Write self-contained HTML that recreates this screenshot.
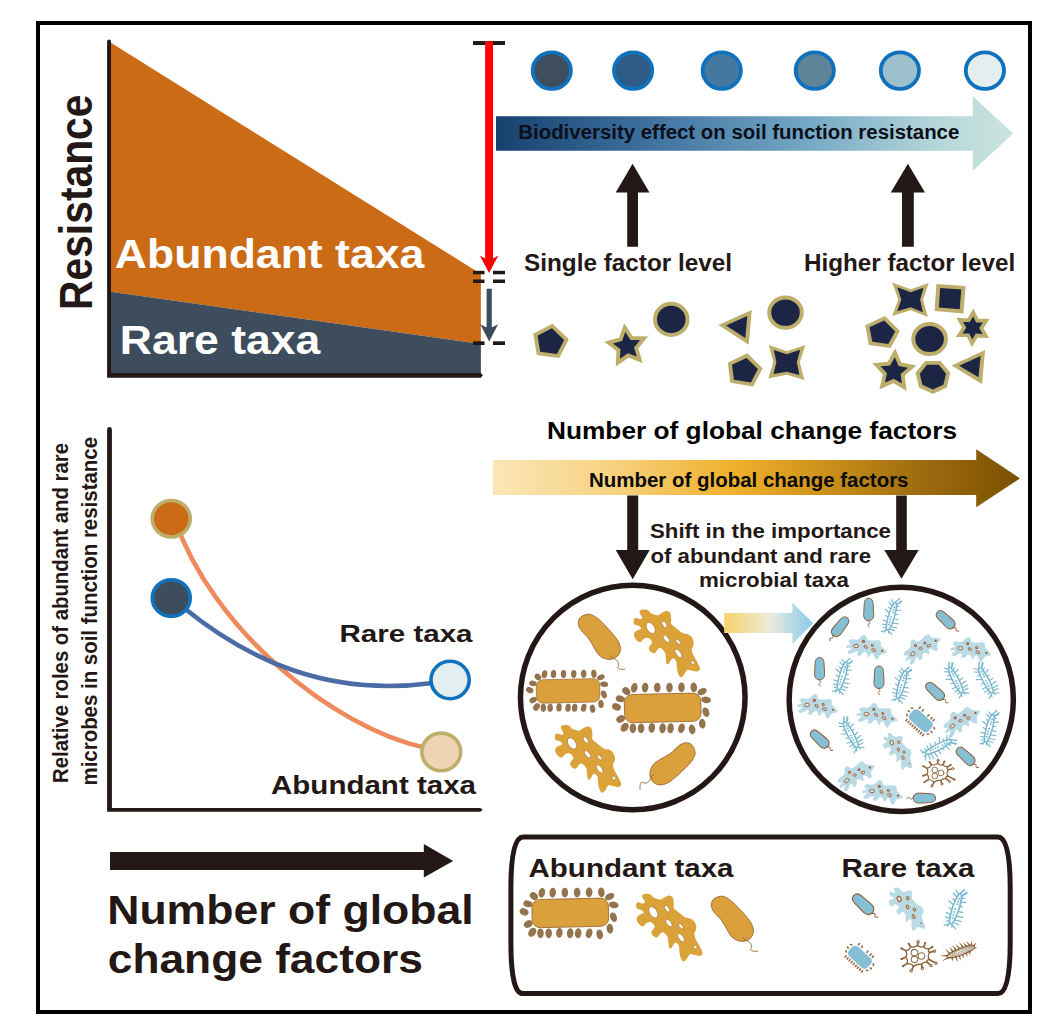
<!DOCTYPE html>
<html><head><meta charset="utf-8"><title>Graphical abstract</title>
<style>html,body{margin:0;padding:0;background:#fff;overflow:hidden}svg{display:block}text{font-family:"Liberation Sans",sans-serif;font-weight:bold}</style></head>
<body>
<svg width="1052" height="1034" viewBox="0 0 1052 1034">
<rect width="1052" height="1034" fill="#fff"/>
<defs>
<linearGradient id="gB" x1="496" x2="1013" y1="0" y2="0" gradientUnits="userSpaceOnUse"><stop offset="0" stop-color="#17416E"/><stop offset="0.3" stop-color="#3F72A0"/><stop offset="0.6" stop-color="#73A7C4"/><stop offset="0.85" stop-color="#B4D6D9"/><stop offset="1" stop-color="#CBE5DD"/></linearGradient>
<linearGradient id="gO" x1="492" x2="1020" y1="0" y2="0" gradientUnits="userSpaceOnUse"><stop offset="0" stop-color="#FBE6B8"/><stop offset="0.22" stop-color="#F7D382"/><stop offset="0.46" stop-color="#EFB02C"/><stop offset="0.62" stop-color="#CF931B"/><stop offset="0.8" stop-color="#A06E10"/><stop offset="1" stop-color="#7A5000"/></linearGradient>
<linearGradient id="gS" x1="724" x2="813" y1="0" y2="0" gradientUnits="userSpaceOnUse"><stop offset="0" stop-color="#F6D36B"/><stop offset="0.35" stop-color="#F2E2B4"/><stop offset="0.52" stop-color="#EDEBDF"/><stop offset="0.75" stop-color="#B9DCE6"/><stop offset="1" stop-color="#8CCAE8"/></linearGradient>
<g id="amoO"><path d="M-27.1 -32.56C-26.49 -33.32 -24.36 -33.73 -22.99 -33.8C-21.62 -33.87 -20.12 -33.66 -18.88 -32.97C-17.65 -32.29 -17.24 -30.51 -15.6 -29.69C-13.95 -28.86 -10.94 -27.84 -9.02 -28.04C-7.1 -28.25 -5.59 -30.23 -4.09 -30.92C-2.58 -31.6 -1.21 -32.29 0.02 -32.15C1.26 -32.02 2.6 -31.4 3.31 -30.1C4.02 -28.8 4.13 -26.12 4.3 -24.34C4.46 -22.56 3.5 -20.92 4.3 -19.41C5.09 -17.9 7.18 -16.81 9.07 -15.3C10.96 -13.79 13.72 -11.4 15.64 -10.37C17.56 -9.34 19.07 -9.82 20.57 -9.14C22.08 -8.45 23.66 -7.56 24.68 -6.26C25.71 -4.96 26.47 -2.83 26.74 -1.33C27.01 0.18 26.64 1.55 26.33 2.78C26.01 4.02 24.85 4.56 24.85 6.07C24.85 7.58 25.53 9.91 26.33 11.83C27.12 13.74 28.59 15.66 29.62 17.58C30.64 19.5 31.95 21.83 32.49 23.33C33.04 24.84 33.25 25.8 32.9 26.62C32.56 27.44 31.67 28.13 30.44 28.27C29.21 28.4 27.15 27.72 25.51 27.44C23.86 27.17 21.81 26.21 20.57 26.62C19.34 27.03 18.93 28.81 18.11 29.91C17.29 31.01 16.46 32.58 15.64 33.2C14.82 33.82 13.93 34.16 13.18 33.61C12.42 33.06 11.67 31.49 11.12 29.91C10.57 28.34 10.16 26.07 9.89 24.16C9.61 22.24 10.02 19.91 9.48 18.4C8.93 16.9 7.49 15.39 6.6 15.11C5.71 14.84 4.96 15.8 4.13 16.76C3.31 17.72 2.42 20.32 1.67 20.87C0.91 21.42 0.09 21.14 -0.39 20.05C-0.87 18.95 -1 15.94 -1.21 14.29C-1.42 12.65 -1.07 11.55 -1.62 10.18C-2.17 8.81 -3.54 6.96 -4.5 6.07C-5.46 5.18 -6.48 4.7 -7.37 4.84C-8.27 4.98 -9.02 6.07 -9.84 6.89C-10.66 7.72 -11.35 9.43 -12.31 9.77C-13.27 10.11 -14.64 9.63 -15.6 8.95C-16.55 8.26 -17.79 6.69 -18.06 5.66C-18.34 4.63 -17.79 3.81 -17.24 2.78C-16.69 1.76 -14.91 0.59 -14.77 -0.5C-14.64 -1.6 -15.6 -2.97 -16.42 -3.79C-17.24 -4.61 -18.61 -5.3 -19.71 -5.44C-20.8 -5.57 -21.9 -5.3 -22.99 -4.61C-24.09 -3.93 -25.19 -1.67 -26.28 -1.33C-27.38 -0.98 -28.54 -1.74 -29.57 -2.56C-30.6 -3.38 -31.9 -5.09 -32.45 -6.26C-32.99 -7.42 -33.2 -8.52 -32.86 -9.55C-32.52 -10.57 -31.56 -11.6 -30.39 -12.42C-29.23 -13.25 -26.28 -13.66 -25.87 -14.48C-25.46 -15.3 -26.9 -16.67 -27.93 -17.36C-28.95 -18.04 -31.15 -17.97 -32.04 -18.59C-32.93 -19.21 -33.13 -20.1 -33.27 -21.06C-33.41 -22.01 -33.34 -23.66 -32.86 -24.34C-32.38 -25.03 -31.49 -25.23 -30.39 -25.17C-29.3 -25.1 -27.24 -23.8 -26.28 -23.93C-25.32 -24.07 -24.57 -25.1 -24.64 -25.99C-24.71 -26.88 -26.28 -28.18 -26.69 -29.28C-27.1 -30.37 -27.72 -31.81 -27.1 -32.56Z" fill="#DBA23A"/><ellipse cx="0" cy="0" rx="6.17" ry="3.7" transform="translate(-16.17 -15.3) rotate(58)" fill="#fff" stroke="#96602C" stroke-width="0.5"/><ellipse cx="0" cy="0" rx="3.7" ry="1.81" transform="translate(-2.44 -18.84) rotate(55)" fill="#fff" stroke="#96602C" stroke-width="0.5"/><ellipse cx="0" cy="0" rx="4.27" ry="2.06" transform="translate(-0.63 -4.45) rotate(52)" fill="#fff" stroke="#96602C" stroke-width="0.5"/><ellipse cx="0" cy="0" rx="3.12" ry="1.48" transform="translate(11.37 -1.33) rotate(50)" fill="#fff" stroke="#96602C" stroke-width="0.5"/><ellipse cx="0" cy="0" rx="4.77" ry="2.22" transform="translate(11.53 10.18) rotate(55)" fill="#fff" stroke="#96602C" stroke-width="0.5"/><ellipse cx="0" cy="0" rx="2.06" ry="1.48" transform="translate(25.75 19.39) rotate(45)" fill="#fff" stroke="#96602C" stroke-width="0.5"/></g>
<g id="amoB"><path d="M-27.1 -32.56C-26.49 -33.32 -24.36 -33.73 -22.99 -33.8C-21.62 -33.87 -20.12 -33.66 -18.88 -32.97C-17.65 -32.29 -17.24 -30.51 -15.6 -29.69C-13.95 -28.86 -10.94 -27.84 -9.02 -28.04C-7.1 -28.25 -5.59 -30.23 -4.09 -30.92C-2.58 -31.6 -1.21 -32.29 0.02 -32.15C1.26 -32.02 2.6 -31.4 3.31 -30.1C4.02 -28.8 4.13 -26.12 4.3 -24.34C4.46 -22.56 3.5 -20.92 4.3 -19.41C5.09 -17.9 7.18 -16.81 9.07 -15.3C10.96 -13.79 13.72 -11.4 15.64 -10.37C17.56 -9.34 19.07 -9.82 20.57 -9.14C22.08 -8.45 23.66 -7.56 24.68 -6.26C25.71 -4.96 26.47 -2.83 26.74 -1.33C27.01 0.18 26.64 1.55 26.33 2.78C26.01 4.02 24.85 4.56 24.85 6.07C24.85 7.58 25.53 9.91 26.33 11.83C27.12 13.74 28.59 15.66 29.62 17.58C30.64 19.5 31.95 21.83 32.49 23.33C33.04 24.84 33.25 25.8 32.9 26.62C32.56 27.44 31.67 28.13 30.44 28.27C29.21 28.4 27.15 27.72 25.51 27.44C23.86 27.17 21.81 26.21 20.57 26.62C19.34 27.03 18.93 28.81 18.11 29.91C17.29 31.01 16.46 32.58 15.64 33.2C14.82 33.82 13.93 34.16 13.18 33.61C12.42 33.06 11.67 31.49 11.12 29.91C10.57 28.34 10.16 26.07 9.89 24.16C9.61 22.24 10.02 19.91 9.48 18.4C8.93 16.9 7.49 15.39 6.6 15.11C5.71 14.84 4.96 15.8 4.13 16.76C3.31 17.72 2.42 20.32 1.67 20.87C0.91 21.42 0.09 21.14 -0.39 20.05C-0.87 18.95 -1 15.94 -1.21 14.29C-1.42 12.65 -1.07 11.55 -1.62 10.18C-2.17 8.81 -3.54 6.96 -4.5 6.07C-5.46 5.18 -6.48 4.7 -7.37 4.84C-8.27 4.98 -9.02 6.07 -9.84 6.89C-10.66 7.72 -11.35 9.43 -12.31 9.77C-13.27 10.11 -14.64 9.63 -15.6 8.95C-16.55 8.26 -17.79 6.69 -18.06 5.66C-18.34 4.63 -17.79 3.81 -17.24 2.78C-16.69 1.76 -14.91 0.59 -14.77 -0.5C-14.64 -1.6 -15.6 -2.97 -16.42 -3.79C-17.24 -4.61 -18.61 -5.3 -19.71 -5.44C-20.8 -5.57 -21.9 -5.3 -22.99 -4.61C-24.09 -3.93 -25.19 -1.67 -26.28 -1.33C-27.38 -0.98 -28.54 -1.74 -29.57 -2.56C-30.6 -3.38 -31.9 -5.09 -32.45 -6.26C-32.99 -7.42 -33.2 -8.52 -32.86 -9.55C-32.52 -10.57 -31.56 -11.6 -30.39 -12.42C-29.23 -13.25 -26.28 -13.66 -25.87 -14.48C-25.46 -15.3 -26.9 -16.67 -27.93 -17.36C-28.95 -18.04 -31.15 -17.97 -32.04 -18.59C-32.93 -19.21 -33.13 -20.1 -33.27 -21.06C-33.41 -22.01 -33.34 -23.66 -32.86 -24.34C-32.38 -25.03 -31.49 -25.23 -30.39 -25.17C-29.3 -25.1 -27.24 -23.8 -26.28 -23.93C-25.32 -24.07 -24.57 -25.1 -24.64 -25.99C-24.71 -26.88 -26.28 -28.18 -26.69 -29.28C-27.1 -30.37 -27.72 -31.81 -27.1 -32.56Z" fill="#BADBE5"/><ellipse cx="0" cy="0" rx="4.44" ry="3.14" transform="translate(-16.17 -15.3) rotate(58)" fill="#D6E9EF" stroke="#A8673A" stroke-width="2"/><ellipse cx="0" cy="0" rx="2.66" ry="1.9" transform="translate(-2.44 -18.84) rotate(55)" fill="#D6E9EF" stroke="#A8673A" stroke-width="2"/><ellipse cx="0" cy="0" rx="3.08" ry="1.9" transform="translate(-0.63 -4.45) rotate(52)" fill="#D6E9EF" stroke="#A8673A" stroke-width="2"/><ellipse cx="0" cy="0" rx="2.25" ry="1.9" transform="translate(11.37 -1.33) rotate(50)" fill="#D6E9EF" stroke="#A8673A" stroke-width="2"/><ellipse cx="0" cy="0" rx="3.43" ry="1.9" transform="translate(11.53 10.18) rotate(55)" fill="#D6E9EF" stroke="#A8673A" stroke-width="2"/><ellipse cx="0" cy="0" rx="1.64" ry="1.18" transform="translate(25.75 19.39) rotate(45)" fill="#A8673A"/></g>
<g id="amoB1"><path d="M-20.01 -1.24C-19.76 -1.59 -19.42 -1.99 -18.82 -2.19C-18.23 -2.38 -16.96 -2.19 -16.44 -2.42C-15.93 -2.66 -15.57 -3.22 -15.73 -3.61C-15.89 -4.01 -17.04 -4.36 -17.4 -4.8C-17.75 -5.24 -18.03 -5.75 -17.87 -6.23C-17.71 -6.7 -17.16 -7.34 -16.44 -7.65C-15.73 -7.97 -14.62 -8.13 -13.59 -8.13C-12.56 -8.13 -11.3 -7.57 -10.27 -7.65C-9.24 -7.73 -8.21 -8.09 -7.41 -8.6C-6.62 -9.12 -6.15 -10.15 -5.51 -10.74C-4.88 -11.34 -4.29 -11.91 -3.61 -12.17C-2.94 -12.42 -2.07 -12.46 -1.47 -12.26C-0.88 -12.06 -0.36 -11.55 -0.05 -10.98C0.27 -10.41 0.19 -9.43 0.43 -8.84C0.67 -8.25 0.63 -7.73 1.38 -7.41C2.13 -7.1 3.72 -6.98 4.94 -6.94C6.17 -6.9 7.56 -7.14 8.75 -7.18C9.93 -7.22 11.2 -7.34 12.07 -7.18C12.94 -7.02 13.58 -6.7 13.97 -6.23C14.37 -5.75 14.37 -5 14.45 -4.33C14.53 -3.65 14.13 -2.94 14.45 -2.19C14.77 -1.43 15.64 -0.6 16.35 0.19C17.06 0.98 18.05 1.89 18.73 2.57C19.4 3.24 20.19 3.72 20.39 4.23C20.59 4.74 20.43 5.3 19.91 5.66C19.4 6.01 18.21 6.13 17.3 6.37C16.39 6.61 15.16 6.69 14.45 7.08C13.74 7.48 13.5 8.07 13.02 8.75C12.55 9.42 12.07 10.53 11.6 11.12C11.12 11.72 10.65 12.31 10.17 12.31C9.7 12.31 9.14 11.72 8.75 11.12C8.35 10.53 8.11 9.54 7.79 8.75C7.48 7.95 7.32 6.84 6.84 6.37C6.37 5.89 5.46 5.74 4.94 5.89C4.43 6.05 4.15 6.73 3.75 7.32C3.36 7.91 3 9.22 2.57 9.46C2.13 9.7 1.5 9.26 1.14 8.75C0.78 8.23 0.74 7 0.43 6.37C0.11 5.74 -0.17 5.14 -0.76 4.94C-1.35 4.74 -2.5 4.86 -3.14 5.18C-3.77 5.5 -4.09 6.33 -4.56 6.84C-5.04 7.36 -5.35 8.03 -5.99 8.27C-6.62 8.51 -7.77 8.47 -8.37 8.27C-8.96 8.07 -9.51 7.56 -9.55 7.08C-9.59 6.61 -8.72 5.89 -8.6 5.42C-8.48 4.94 -8.48 4.47 -8.84 4.23C-9.2 3.99 -9.95 3.79 -10.74 3.99C-11.53 4.19 -12.64 4.98 -13.59 5.42C-14.54 5.85 -15.61 6.53 -16.44 6.61C-17.28 6.69 -18.19 6.29 -18.58 5.89C-18.98 5.5 -19.1 4.78 -18.82 4.23C-18.54 3.68 -17.47 3.08 -16.92 2.57C-16.37 2.05 -15.57 1.5 -15.49 1.14C-15.42 0.78 -15.81 0.52 -16.44 0.43C-17.08 0.33 -18.65 0.65 -19.3 0.57C-19.95 0.49 -20.22 0.25 -20.34 -0.05C-20.46 -0.35 -20.26 -0.88 -20.01 -1.24Z" fill="#BADBE5"/><ellipse cx="0" cy="0" rx="2.47" ry="1.71" transform="translate(-10.41 -1.38) rotate(0)" fill="#CFE6EE" stroke="#A45A2C" stroke-width="0.9"/><ellipse cx="0" cy="0" rx="1" ry="1" transform="translate(-3.04 -5.99) rotate(0)" fill="#CFE6EE" stroke="#A45A2C" stroke-width="1.09"/><ellipse cx="0" cy="0" rx="1.71" ry="1.05" transform="translate(-0.86 -0.52) rotate(30)" fill="#CFE6EE" stroke="#A45A2C" stroke-width="0.9"/><ellipse cx="0" cy="0" rx="1" ry="0.86" transform="translate(5.89 -1.95) rotate(20)" fill="#CFE6EE" stroke="#A45A2C" stroke-width="1"/><ellipse cx="0" cy="0" rx="2" ry="1.14" transform="translate(7.08 2.66) rotate(25)" fill="#CFE6EE" stroke="#A45A2C" stroke-width="0.9"/><circle cx="15.64" cy="3.37" r="1.14" fill="#A45A2C"/></g>
<g id="bacO"><path d="M7.53 -24.51C9.11 -23.36 9.76 -22.3 10.52 -20.32C11.29 -18.34 11.83 -15.62 12.1 -12.63C12.37 -9.64 12.22 -5.88 12.16 -2.37C12.09 1.13 12.02 5.15 11.7 8.4C11.37 11.65 11.01 14.69 10.21 17.13C9.41 19.57 8.18 21.59 6.9 23.05C5.63 24.51 4.18 25.37 2.56 25.89C0.94 26.41 -1.03 26.59 -2.83 26.17C-4.62 25.76 -6.77 24.66 -8.23 23.38C-9.69 22.11 -10.81 20.32 -11.59 18.53C-12.37 16.73 -12.85 14.64 -12.9 12.63C-12.95 10.63 -12.41 8.7 -11.91 6.47C-11.41 4.25 -10.48 1.76 -9.89 -0.72C-9.31 -3.2 -8.64 -5.94 -8.39 -8.42C-8.15 -10.9 -8.63 -13.42 -8.43 -15.6C-8.23 -17.78 -7.9 -19.84 -7.18 -21.51C-6.46 -23.18 -5.49 -24.68 -4.12 -25.63C-2.76 -26.58 -0.94 -27.38 1 -27.19C2.94 -27.01 5.94 -25.65 7.53 -24.51Z" fill="#D9A03C" stroke="#96602C" stroke-width="0.8"/><path d="M-4.91 20.54C-5.03 21.01 -5.75 22.34 -5.66 23.37C-5.57 24.39 -4.63 25.5 -4.36 26.7C-4.1 27.89 -3.79 29.39 -4.09 30.54C-4.38 31.7 -5.36 32.94 -6.12 33.63C-6.89 34.32 -8.47 33.94 -8.68 34.67C-8.89 35.4 -8.11 36.93 -7.38 38C-6.65 39.06 -4.8 40.55 -4.29 41.06" fill="none" stroke="#96602C" stroke-width="0.8"/></g>
<g id="bacB"><path d="M0 -11.2C2.9 -11.2 4.3 -9 4.4 -6L5 5C5.1 8.8 3.2 11.2 0 11.2C-3.2 11.2 -5.1 8.8 -5 5L-4.4 -6C-4.3 -9 -2.9 -11.2 0 -11.2Z" fill="#85BFD6" stroke="#8E5E38" stroke-width="1.0"/><path d="M-0.8 10.2C-0.6 12.2 1.6 12.6 0.8 13.8C0.2 14.8 -1.6 15 -0.6 16.2L1 17.6" fill="none" stroke="#8E5E38" stroke-width="0.9"/></g>
<g id="dcapO"><ellipse cx="0" cy="0" rx="3.28" ry="4.92" transform="translate(-28.42 -20.11) rotate(10)" fill="#94744F"/><ellipse cx="0" cy="0" rx="3.28" ry="4.92" transform="translate(-17.6 -20.33) rotate(5)" fill="#94744F"/><ellipse cx="0" cy="0" rx="3.28" ry="4.92" transform="translate(-5.47 -20.33) rotate(0)" fill="#94744F"/><ellipse cx="0" cy="0" rx="3.28" ry="4.92" transform="translate(6.78 -20.33) rotate(0)" fill="#94744F"/><ellipse cx="0" cy="0" rx="3.28" ry="4.92" transform="translate(18.8 -20.55) rotate(0)" fill="#94744F"/><ellipse cx="0" cy="0" rx="3.28" ry="4.92" transform="translate(31.05 -20.55) rotate(-5)" fill="#94744F"/><ellipse cx="0" cy="0" rx="4.92" ry="3.28" transform="translate(39.35 -16.29) rotate(-25)" fill="#94744F"/><ellipse cx="0" cy="0" rx="4.92" ry="3.28" transform="translate(43.4 -7.98) rotate(10)" fill="#94744F"/><ellipse cx="0" cy="0" rx="3.28" ry="4.92" transform="translate(43.18 4.26) rotate(-20)" fill="#94744F"/><ellipse cx="0" cy="0" rx="3.28" ry="4.92" transform="translate(39.57 15.74) rotate(-5)" fill="#94744F"/><ellipse cx="0" cy="0" rx="3.28" ry="4.92" transform="translate(29.41 21.43) rotate(-10)" fill="#94744F"/><ellipse cx="0" cy="0" rx="3.28" ry="4.92" transform="translate(18.8 20.33) rotate(15)" fill="#94744F"/><ellipse cx="0" cy="0" rx="3.28" ry="4.92" transform="translate(7.87 20.33) rotate(5)" fill="#94744F"/><ellipse cx="0" cy="0" rx="3.28" ry="4.92" transform="translate(-0.11 20.33) rotate(5)" fill="#94744F"/><ellipse cx="0" cy="0" rx="3.28" ry="4.92" transform="translate(-10.93 19.9) rotate(5)" fill="#94744F"/><ellipse cx="0" cy="0" rx="3.28" ry="4.92" transform="translate(-21.64 20.44) rotate(0)" fill="#94744F"/><ellipse cx="0" cy="0" rx="3.28" ry="4.92" transform="translate(-29.84 20.44) rotate(0)" fill="#94744F"/><ellipse cx="0" cy="0" rx="3.61" ry="4.92" transform="translate(-38.04 19.35) rotate(35)" fill="#94744F"/><ellipse cx="0" cy="0" rx="4.59" ry="3.5" transform="translate(-42.09 11.04) rotate(-30)" fill="#94744F"/><ellipse cx="0" cy="0" rx="4.59" ry="3.5" transform="translate(-46.24 -0.98) rotate(25)" fill="#94744F"/><ellipse cx="0" cy="0" rx="4.59" ry="3.28" transform="translate(-42.41 -9.07) rotate(15)" fill="#94744F"/><ellipse cx="0" cy="0" rx="4.37" ry="3.5" transform="translate(-36.4 -16.83) rotate(40)" fill="#94744F"/><rect x="-38.25" y="-14.1" width="76.5" height="28.2" rx="8" ry="8" transform="rotate(-1.3)" fill="#D9A03C" stroke="#96602C" stroke-width="0.8"/></g>
<g id="dcapB"><rect x="-12.6" y="-6.5" width="25.2" height="13" rx="4.2" ry="4.2" fill="#85BFD6"/><ellipse cx="-11.1" cy="9.1" rx="0.85" ry="1.7" transform="rotate(0)" fill="#9A6B43"/><ellipse cx="-8.32" cy="9.1" rx="0.85" ry="1.7" transform="rotate(0)" fill="#9A6B43"/><ellipse cx="-5.55" cy="9.1" rx="0.85" ry="1.7" transform="rotate(0)" fill="#9A6B43"/><ellipse cx="-2.78" cy="9.1" rx="0.85" ry="1.7" transform="rotate(0)" fill="#9A6B43"/><ellipse cx="0" cy="9.1" rx="0.85" ry="1.7" transform="rotate(0)" fill="#9A6B43"/><ellipse cx="2.78" cy="9.1" rx="0.85" ry="1.7" transform="rotate(0)" fill="#9A6B43"/><ellipse cx="5.55" cy="9.1" rx="0.85" ry="1.7" transform="rotate(0)" fill="#9A6B43"/><ellipse cx="8.33" cy="9.1" rx="0.85" ry="1.7" transform="rotate(0)" fill="#9A6B43"/><ellipse cx="11.1" cy="9.1" rx="0.85" ry="1.7" transform="rotate(0)" fill="#9A6B43"/><ellipse cx="-9.5" cy="-9.1" rx="0.85" ry="1.7" fill="#9A6B43"/><ellipse cx="-5.5" cy="-9.1" rx="0.85" ry="1.7" fill="#9A6B43"/><ellipse cx="2" cy="-9.1" rx="0.85" ry="1.7" fill="#9A6B43"/><ellipse cx="6.2" cy="-9.1" rx="0.85" ry="1.7" fill="#9A6B43"/><ellipse cx="9.2" cy="-9.1" rx="0.85" ry="1.7" fill="#9A6B43"/><ellipse cx="0" cy="0" rx="0.85" ry="1.6" transform="translate(-15 -3.5) rotate(60)" fill="#9A6B43"/><ellipse cx="0" cy="0" rx="0.85" ry="1.6" transform="translate(-15.4 1) rotate(90)" fill="#9A6B43"/><ellipse cx="0" cy="0" rx="0.85" ry="1.6" transform="translate(-14.2 5) rotate(-50)" fill="#9A6B43"/><ellipse cx="0" cy="0" rx="0.85" ry="1.6" transform="translate(15 -3.5) rotate(-60)" fill="#9A6B43"/><ellipse cx="0" cy="0" rx="0.85" ry="1.6" transform="translate(15.4 1) rotate(90)" fill="#9A6B43"/><ellipse cx="0" cy="0" rx="0.85" ry="1.6" transform="translate(14.2 5) rotate(50)" fill="#9A6B43"/></g>
<g id="cilB" fill="none" stroke="#78B8D0" stroke-linecap="round"><path d="M-1.28 -13.03L-4.75 -16.01M-2.05 -10.5L-6.24 -12.88M-2.63 -6.94L-5.13 -7.89M-2.95 -2.7L-8.11 -5.21M-2.98 1.8L-6.14 0.71M-2.71 6.13L-6.99 5.9M-2.19 9.86L-6.49 9.83M-1.45 12.62L-4.45 12.93M-0.56 14.14L-5.34 17.53M1.28 -13.03L5.53 -16.28M2.05 -10.5L4.47 -11.65M2.63 -6.94L7.14 -8.46M2.95 -2.7L5.31 -3.64M2.98 1.8L7.21 1.11M2.71 6.13L8.56 5.33M2.19 9.86L8.25 9.59M1.45 12.62L7.04 12.76M0.56 14.14L5.76 17.38M-1.2 13.9L-2.2 17.2M1.0 13.7L2.0 17" stroke-width="1.15"/><path d="M-0.9 -13.8L2.59 -19.17M1.9 -12.5L5.17 -17.53" stroke-width="1.38"/><ellipse cx="0" cy="0" rx="3" ry="14.4" fill="#fff" stroke-width="1.4"/><path d="M0.3 -10.45V-3.65" stroke-width="1.75" stroke-dasharray="1.6 1.0" stroke-linecap="butt"/><path d="M-0.2 -0.35V9.45" stroke-width="1.75" stroke-dasharray="1.6 1.13" stroke-linecap="butt"/></g>
<g id="cilBr"><path d="M-9.31 -1.76L-12.38 -7.49L-11.09 -1.12ZM-5.88 -2.39L-8.4 -8.17L-7.72 -1.91ZM-2.5 -2.81L-5.54 -8.62L-4.3 -2.18ZM0.88 -2.96L-2.42 -8.45L-0.88 -2.24ZM4.3 -2.79L1.26 -9.1L2.5 -2.2ZM7.67 -2.53L4.48 -7.54L5.93 -1.77ZM10.87 -1.87L7.23 -7.9L9.13 -1.12ZM-10.4 1.55L-9.89 5.9L-8.6 1.71ZM-6.9 2.25L-6.03 8.39L-5.1 2.26ZM-3.5 2.45L-3.16 7.94L-1.7 2.63ZM-0.07 2.37L-0.24 6.7L1.67 2.81ZM3.31 2.31L3.59 6.71L5.09 2.56ZM6.73 1.81L6.49 6.58L8.47 2.24ZM-12 -1.65L-19.38 -3.28L-12.6 0.05ZM-12.41 0.01L-19.25 1.73L-12.19 1.79ZM12.71 -0.06L16.33 -3.02L11.89 -1.54ZM11.84 1.56L15.5 1.99L12.36 0.04ZM11.46 -1.42L12.85 -6.09L9.94 -2.18Z" fill="#8B6239"/><ellipse cx="0" cy="0" rx="12.9" ry="3" fill="#fff" stroke="#8B6239" stroke-width="1.1"/><ellipse cx="0" cy="0" rx="10.84" ry="1.65" fill="none" stroke="#8B6239" stroke-width="0.55"/><path d="M-9 0H9" stroke="#7AA9B8" stroke-width="1.15" stroke-dasharray="0.9 1.1" fill="none"/><path d="M-8 0H9" stroke="#8B6239" stroke-width="1.0" stroke-dasharray="0.45 1.55" fill="none"/></g>
<g id="virus" fill="none" stroke="#8B6239" stroke-linecap="round" stroke-linejoin="round"><path d="M0.4 -9.58Q2.55 -7.19 5.99 -8.38Q6.71 -5.91 10.78 -6.39Q8.78 -3.83 11.18 -3.19Q8.78 0 10.78 3.19Q7.82 3.51 8.78 5.59Q5.03 5.27 3.79 7.58Q0.24 6.71 -3.19 9.18Q-4.95 6.39 -9.18 6.79Q-7.82 3.19 -10.38 1.2Q-8.3 -1.44 -10.38 -4.79Q-6.55 -5.27 -5.99 -8.38Q-2.24 -7.19 0.4 -9.58Z" stroke-width="1.15"/><path d="M0.4 -9.58L0.8 -12.77M5.99 -8.38L7.19 -11.58M10.78 -6.39L13.57 -8.18M11.18 -3.19L15.57 -4.39M10.78 3.19L16.77 6.39M8.78 5.59L12.38 8.58M3.79 7.58L4.59 10.98M-3.19 9.18L-5.39 13.17M-9.18 6.79L-12.77 9.18M-10.38 1.2L-13.97 2.79M-10.38 -4.79L-13.97 -6.79M-5.99 -8.38L-7.58 -10.98" stroke-width="1.5"/><circle cx="0.8" cy="-12.77" r="1.05" stroke-width="0.95" fill="#fff"/><circle cx="7.19" cy="-11.58" r="0.95" stroke="none" fill="#8B6239"/><circle cx="13.57" cy="-8.18" r="0.95" stroke="none" fill="#8B6239"/><circle cx="15.57" cy="-4.39" r="1.05" stroke-width="0.95" fill="#fff"/><circle cx="16.77" cy="6.39" r="1.05" stroke-width="0.95" fill="#fff"/><circle cx="12.38" cy="8.58" r="1.05" stroke-width="0.95" fill="#fff"/><circle cx="4.59" cy="10.98" r="1.05" stroke-width="0.95" fill="#fff"/><circle cx="-5.39" cy="13.17" r="1.05" stroke-width="0.95" fill="#fff"/><circle cx="-12.77" cy="9.18" r="0.95" stroke="none" fill="#8B6239"/><circle cx="-13.97" cy="2.79" r="0.95" stroke="none" fill="#8B6239"/><circle cx="-13.97" cy="-6.79" r="0.95" stroke="none" fill="#8B6239"/><circle cx="-7.58" cy="-10.98" r="0.95" stroke="none" fill="#8B6239"/><circle cx="-2.4" cy="-2.99" r="2.9" stroke-width="0.95" stroke="#93704B"/><circle cx="3.79" cy="0" r="2.9" stroke-width="0.95" stroke="#93704B"/><circle cx="-2.4" cy="2.99" r="2.9" stroke-width="0.95" stroke="#93704B"/></g>
</defs>
<rect x="38" y="23" width="992" height="989" fill="#fff" stroke="#000" stroke-width="4"/>
<polygon points="110.5,42.5 480.9,273.9 480.9,344 110.5,291.8" fill="#CC6B16"/>
<polygon points="110.5,291.8 480.9,344 480.9,374 110.5,374" fill="#3D4D5E"/>
<path d="M107.1 41.4A1.95 1.95 0 0 1 111 41.4V372.9H480.7L483 375.3L480.7 377.7H107.1Z" fill="#231815"/>
<text transform="translate(92 310) rotate(-90)" x="0" y="0" font-size="46.4" fill="#231815" textLength="215.5" lengthAdjust="spacingAndGlyphs">Resistance</text>
<text x="114.8" y="267.8" font-size="41" fill="#fff" text-anchor="start" textLength="309.5" lengthAdjust="spacingAndGlyphs" >Abundant taxa</text>
<text x="119.8" y="354.3" font-size="40" fill="#fff" text-anchor="start" textLength="200.5" lengthAdjust="spacingAndGlyphs" >Rare taxa</text>
<rect x="473" y="41.2" width="11.5" height="3.8" fill="#231815"/>
<rect x="493" y="41.2" width="12" height="3.8" fill="#231815"/>
<rect x="473" y="270.8" width="11.5" height="3.5" fill="#231815"/>
<rect x="493" y="270.8" width="12" height="3.5" fill="#231815"/>
<rect x="473" y="279.5" width="11.5" height="3.5" fill="#231815"/>
<rect x="493" y="279.5" width="12" height="3.5" fill="#231815"/>
<rect x="473" y="341.3" width="11.5" height="3.7" fill="#231815"/>
<rect x="493" y="341.3" width="12" height="3.7" fill="#231815"/>
<rect x="473" y="41.2" width="32" height="3.8" fill="#231815"/>
<rect x="485.1" y="41.2" width="7.9" height="220" fill="#FF0000"/>
<path d="M489 273.1L479.8 255.4Q489 262.5 498.4 255.4Z" fill="#FF0000"/>
<rect x="486.6" y="288.7" width="5.2" height="40" fill="#3D4D5E"/>
<path d="M489.2 341.5L480.3 324.3Q489.2 330.5 498.1 324.3Z" fill="#3D4D5E"/>
<ellipse cx="551.75" cy="70.6" rx="19.1" ry="18.3" fill="#3F4E5E" stroke="#1071BC" stroke-width="3.8"/>
<ellipse cx="633.1" cy="70.6" rx="19.1" ry="18.3" fill="#2F5C86" stroke="#1071BC" stroke-width="3.8"/>
<ellipse cx="721.75" cy="70.6" rx="19.1" ry="18.3" fill="#44789F" stroke="#1071BC" stroke-width="3.8"/>
<ellipse cx="814.75" cy="70.6" rx="19.1" ry="18.3" fill="#5E8498" stroke="#1071BC" stroke-width="3.8"/>
<ellipse cx="899.9" cy="70.6" rx="19.1" ry="18.3" fill="#9EBFCC" stroke="#1071BC" stroke-width="3.8"/>
<ellipse cx="984.9" cy="70.6" rx="19.1" ry="18.3" fill="#E3EFEF" stroke="#1071BC" stroke-width="3.8"/>
<polygon points="496,116.2 972.8,116.2 972.8,96.2 1013.3,133.6 972.8,170.8 972.8,150.8 496,150.8" fill="url(#gB)"/>
<text x="518.3" y="138.7" font-size="19.4" fill="#0A0F1A" text-anchor="start" textLength="441" lengthAdjust="spacingAndGlyphs" >Biodiversity effect on soil function resistance</text>
<polygon points="632.6,163.7 649.5,192.5 638,192.5 638,246.8 627.2,246.8 627.2,192.5 615.7,192.5" fill="#231815"/>
<polygon points="907.9,163.7 925,192.5 913.8,192.5 913.8,246.8 902,246.8 902,192.5 890.8,192.5" fill="#231815"/>
<text x="524" y="271.3" font-size="23.6" fill="#231815" text-anchor="start" textLength="208" lengthAdjust="spacingAndGlyphs" >Single factor level</text>
<text x="804" y="271.3" font-size="23.6" fill="#231815" text-anchor="start" textLength="211.2" lengthAdjust="spacingAndGlyphs" >Higher factor level</text>
<polygon points="552.5,323.7 568.8,339.3 559.3,358 536.8,355 533.3,333.7" fill="#BDAE6C"/>
<polygon points="551.9,328.36 564.15,339.96 556.97,353.92 540.16,351.71 537.52,335.77" fill="#1C2544"/>
<polygon points="624.71,327.55 631.56,337.98 644.03,338.26 636.22,347.99 639.82,359.94 628.15,355.53 617.89,362.64 618.48,350.17 608.55,342.61 620.59,339.33" fill="#1C2544" stroke="#BDAE6C" stroke-width="3.9" stroke-miterlimit="10"/>
<ellipse cx="671.25" cy="319.4" rx="16.25" ry="15.6" fill="#1C2544" stroke="#BDAE6C" stroke-width="4"/>
<polygon points="718.4,324.9 751.75,309.9 748.7,344.7" fill="#BDAE6C"/>
<polygon points="725.98,325.47 747.27,316.04 745.31,337.9" fill="#1C2544"/>
<ellipse cx="785.5" cy="312.6" rx="16.3" ry="15.2" fill="#1C2544" stroke="#BDAE6C" stroke-width="4"/>
<polygon points="747.3,353.3 762.6,368.3 753.2,386.5 730.4,382.8 727.7,362.8" fill="#BDAE6C"/>
<polygon points="746.49,357.93 757.94,368.92 750.88,382.41 733.94,379.71 731.94,364.83" fill="#1C2544"/>
<polygon points="768.8,345 786.8,351.2 805.4,345 799.8,362.3 804.4,380 786.8,374.7 768.2,378.5 773.4,362.3" fill="#BDAE6C"/>
<polygon points="773.82,349.88 786.77,354.2 800.27,349.76 796.8,362.32 799.44,375.06 786.78,371.7 773.48,373.9 776.4,362.32" fill="#1C2544"/>
<polygon points="892.1,282.4 910.7,289.2 928.7,283 923.1,299.4 927.8,317.1 910.7,310.3 892.1,315.9 898.3,299.4" fill="#BDAE6C"/>
<polygon points="897.21,287.19 910.62,292.2 923.52,287.71 920.1,299.44 922.87,312.13 910.63,307.3 897.33,311.25 901.3,299.45" fill="#1C2544"/>
<polygon points="936.4,283.9 965.6,286.1 963.4,313.4 934.6,310.9" fill="#BDAE6C"/>
<polygon points="940.14,287.93 961.3,289.53 959.71,309.32 938.89,307.46" fill="#1C2544"/>
<polygon points="973.24,312.48 977.28,320.57 986.32,320.66 981.33,328.2 985.78,336.07 976.76,335.53 972.16,343.32 968.12,335.23 959.08,335.14 964.07,327.6 959.62,319.73 968.64,320.27" fill="#1C2544" stroke="#BDAE6C" stroke-width="3.7" stroke-miterlimit="10"/>
<polygon points="885,315.9 899.9,331 890.6,348.1 868.9,345 865.2,325.2" fill="#BDAE6C"/>
<polygon points="884.17,320.53 895.23,331.53 888.25,344.03 872.36,341.82 869.46,327.2" fill="#1C2544"/>
<ellipse cx="929.6" cy="339.1" rx="16.3" ry="15" fill="#1C2544" stroke="#BDAE6C" stroke-width="4"/>
<polygon points="894.98,352.73 899.91,364.2 912.15,366.64 902.77,374.87 904.24,387.26 893.51,380.88 882.17,386.11 884.92,373.93 876.45,364.76 888.88,363.62" fill="#1C2544" stroke="#BDAE6C" stroke-width="3.9" stroke-miterlimit="10"/>
<polygon points="932.9,393.9 918.98,387.39 915.55,372.75 925.18,361.01 940.62,361.01 950.25,372.75 946.82,387.39" fill="#BDAE6C"/>
<polygon points="932.9,389.6 922.38,384.75 919.74,373.68 927.09,364.87 938.71,364.87 946.06,373.68 943.42,384.75" fill="#1C2544"/>
<polygon points="951.6,365.4 985.1,350 982,384" fill="#BDAE6C"/>
<polygon points="959.19,365.78 980.58,356.11 978.5,377.25" fill="#1C2544"/>
<path d="M107.1 429.5A2.4 2.4 0 0 1 111.9 429.5V807.9H480.4L482.7 809.8L480.4 811.75H107.1Z" fill="#231815"/>
<text transform="translate(68 783) rotate(-90)" x="0" y="0" font-size="22.4" fill="#231815" textLength="340" lengthAdjust="spacingAndGlyphs">Relative roles of abundant and rare</text>
<text transform="translate(97 785.5) rotate(-90)" x="0" y="0" font-size="22.4" fill="#231815" textLength="348.5" lengthAdjust="spacingAndGlyphs">microbes in soil function resistance</text>
<path d="M174.1 517.4C212.6 631.9 335.6 728 423.1 747.2" fill="none" stroke="#EE8A5D" stroke-width="4.6"/>
<path d="M184 608C249.2 660.8 328.5 696.9 433 683" fill="none" stroke="#4A6BA6" stroke-width="4.6"/>
<ellipse cx="171.25" cy="518.75" rx="19" ry="18.2" fill="#CC6B16" stroke="#BDAE6C" stroke-width="3.6"/>
<ellipse cx="171.25" cy="598.1" rx="19" ry="18.3" fill="#3D4D5E" stroke="#1071BC" stroke-width="3.6"/>
<ellipse cx="450.1" cy="680" rx="19.1" ry="18.7" fill="#E3EFEF" stroke="#1071BC" stroke-width="3.6"/>
<ellipse cx="441.25" cy="751.9" rx="19.4" ry="18.8" fill="#EFD3B5" stroke="#BDAE6C" stroke-width="3.6"/>
<text x="339.5" y="642" font-size="24.8" fill="#231815" text-anchor="start" textLength="133" lengthAdjust="spacingAndGlyphs" >Rare taxa</text>
<text x="271" y="794" font-size="25.3" fill="#231815" text-anchor="start" textLength="205" lengthAdjust="spacingAndGlyphs" >Abundant taxa</text>
<polygon points="110,851.9 423.8,851.9 423.8,844 453.2,861 423.8,877.6 423.8,869.9 110,869.9" fill="#231815"/>
<text x="107.2" y="924" font-size="41" fill="#231815" text-anchor="start" textLength="366.5" lengthAdjust="spacingAndGlyphs" >Number of global</text>
<text x="107.8" y="972.6" font-size="41" fill="#231815" text-anchor="start" textLength="315" lengthAdjust="spacingAndGlyphs" >change factors</text>
<text x="547" y="438.7" font-size="23.4" fill="#000" text-anchor="start" textLength="410" lengthAdjust="spacingAndGlyphs" >Number of global change factors</text>
<polygon points="492.8,460 976.2,460 976.2,449.2 1020,478.4 976.2,507.2 976.2,495 492.8,495" fill="url(#gO)"/>
<text x="589" y="487" font-size="20.3" fill="#0A0A0A" text-anchor="start" textLength="319.5" lengthAdjust="spacingAndGlyphs" >Number of global change factors</text>
<polygon points="627.2,495.6 638.2,495.6 638.2,550 649.7,550 632.7,579.2 615.7,550 627.2,550" fill="#231815"/>
<polygon points="896.2,495.6 906.8,495.6 906.8,550 918.7,550 901.5,578.8 884.3,550 896.2,550" fill="#231815"/>
<text x="650" y="538.3" font-size="20.3" fill="#231815" text-anchor="start" textLength="241" lengthAdjust="spacingAndGlyphs" >Shift in the importance</text>
<text x="650.5" y="562.5" font-size="20.3" fill="#231815" text-anchor="start" textLength="220.5" lengthAdjust="spacingAndGlyphs" >of abundant and rare</text>
<text x="699" y="587" font-size="20.3" fill="#231815" text-anchor="start" textLength="150" lengthAdjust="spacingAndGlyphs" >microbial taxa</text>
<circle cx="632.75" cy="697.5" r="112.3" fill="#fff" stroke="#231815" stroke-width="5.5"/>
<circle cx="901.25" cy="699.4" r="112.1" fill="#fff" stroke="#231815" stroke-width="5.5"/>
<polygon points="724.2,613 792.4,613 792.4,602.5 813.1,623.2 792.4,643.9 792.4,632.9 724.2,632.9" fill="url(#gS)"/>
<path d="M523 837H998C1005.5 837 1010.2 852 1010.2 888V943C1010.2 979 1005.5 993.6 998 993.6H523C515.5 993.6 510.9 979 510.9 943V888C510.9 852 515.5 837 523 837Z" fill="#fff" stroke="#231815" stroke-width="5"/>
<text x="528.5" y="876.7" font-size="26.5" fill="#231815" text-anchor="start" textLength="205" lengthAdjust="spacingAndGlyphs" >Abundant taxa</text>
<text x="841.5" y="876.7" font-size="26.5" fill="#231815" text-anchor="start" textLength="133" lengthAdjust="spacingAndGlyphs" >Rare taxa</text>
<use href="#bacO" transform="translate(599.3 637) rotate(-44.7)"/>
<use href="#amoO" transform="translate(666.9 643.25)"/>
<use href="#dcapO" transform="translate(568.1 690.9) scale(0.83)"/>
<use href="#dcapO" transform="translate(662.7 707.9)"/>
<use href="#amoO" transform="translate(588.15 758.75)"/>
<use href="#bacO" transform="translate(672.3 763.8) rotate(45.3)"/>
<use href="#dcapO" transform="translate(570.3 912.9)"/>
<use href="#amoO" transform="translate(669.5 927.55)"/>
<use href="#bacO" transform="translate(732.3 919) rotate(-44.7)"/>
<use href="#amoB1" transform="translate(866.5 647.4)"/>
<use href="#amoB1" transform="translate(921.6 648.2) rotate(-40)"/>
<use href="#amoB1" transform="translate(970.7 649.6)"/>
<use href="#amoB1" transform="translate(817.4 706.4)"/>
<use href="#amoB1" transform="translate(876.9 715.4)"/>
<use href="#amoB1" transform="translate(961.3 720.5) rotate(-40)"/>
<use href="#amoB1" transform="translate(855.7 775) rotate(-40)"/>
<use href="#amoB1" transform="translate(882.4 792.4)"/>
<use href="#amoB" transform="translate(898.3 751.7) rotate(10) scale(0.5)"/>
<use href="#bacB" transform="translate(868.7 609.5)"/>
<use href="#bacB" transform="translate(840.2 626.7) rotate(38)"/>
<use href="#bacB" transform="translate(945.6 619.7) rotate(-47)"/>
<use href="#bacB" transform="translate(819.6 668.7)"/>
<use href="#bacB" transform="translate(879 677.3)"/>
<use href="#bacB" transform="translate(935 691.3) rotate(-47)"/>
<use href="#bacB" transform="translate(819.6 739) rotate(-47)"/>
<use href="#bacB" transform="translate(965.5 756.2) rotate(-47)"/>
<use href="#bacB" transform="translate(924.4 798.1) rotate(90)"/>
<use href="#cilB" transform="translate(891.4 616.4) rotate(16.3)"/>
<use href="#cilB" transform="translate(842.3 676.2) rotate(16)"/>
<use href="#cilB" transform="translate(901.6 684.8) rotate(16)"/>
<use href="#cilB" transform="translate(955.8 680.3) rotate(-27.5)"/>
<use href="#cilB" transform="translate(985.9 680.5) rotate(-27.5)"/>
<use href="#cilB" transform="translate(850.8 734.8) rotate(-27.8)"/>
<use href="#cilB" transform="translate(989.3 728.4) rotate(15)"/>
<use href="#cilB" transform="translate(938.4 746.9) rotate(62.7)"/>
<use href="#dcapB" transform="translate(920.8 720.8) rotate(42)"/>
<use href="#virus" transform="translate(937.2 773)"/>
<use href="#bacB" transform="translate(863 904.2) rotate(-47) scale(1.13)"/>
<use href="#amoB" transform="translate(907.6 909.5) rotate(8) scale(0.6)"/>
<use href="#cilB" transform="translate(955.6 908.8) rotate(18) scale(1.1)"/>
<use href="#dcapB" transform="translate(859.9 957.2) rotate(42)"/>
<use href="#virus" transform="translate(917.2 956) scale(1.12)"/>
<use href="#cilBr" transform="translate(961 951.7) rotate(-20.7) scale(1.1)"/>
</svg>
</body></html>
